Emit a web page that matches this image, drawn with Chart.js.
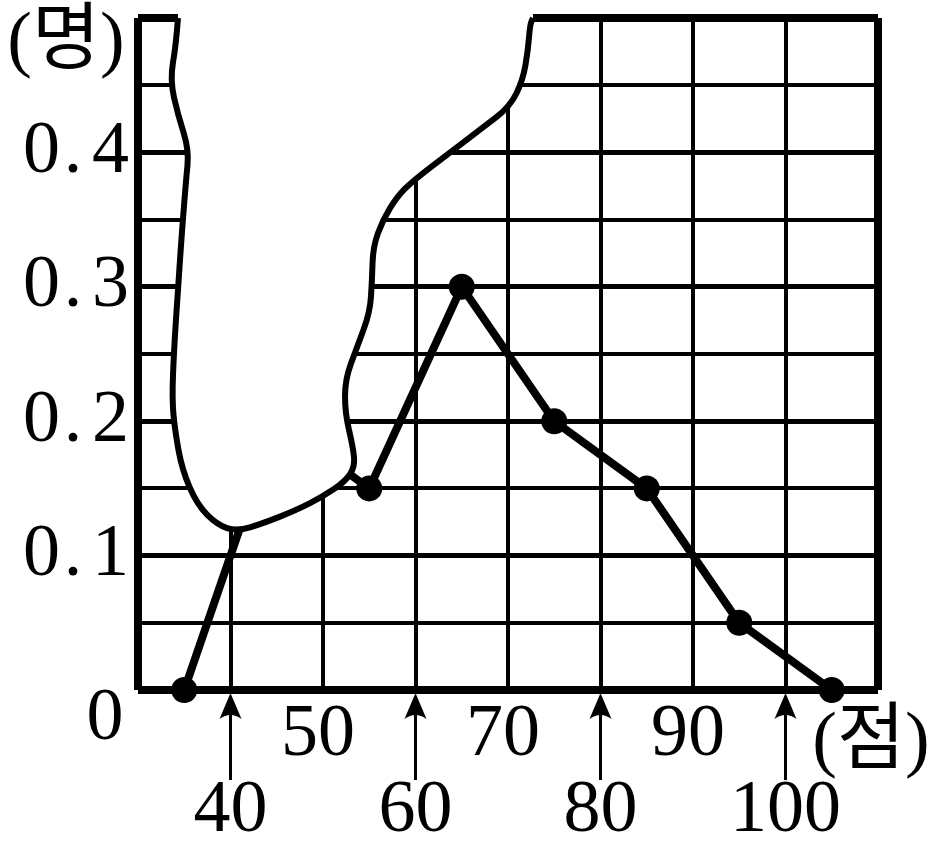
<!DOCTYPE html>
<html>
<head>
<meta charset="utf-8">
<script src="https://cdn.jsdelivr.net/npm/chart.js@4/dist/chart.umd.min.js"></script>
<style>
    html, body { margin: 0; padding: 0; background: #fff; }
    canvas { display: block; }
</style>
</head>
<body>
<canvas id="freqChart" width="935" height="858"></canvas>
<script>
// Class midpoints (점) and relative frequency (명)
const scores = [35, 45, 55, 65, 75, 85, 95, 105];
const relFreq = [0, 0.2, 0.15, 0.3, 0.2, 0.15, 0.05, 0];
const hiddenScore = 45; // lies under the torn patch

const upperTickLabels = [50, 70, 90];
const lowerTickLabels = [40, 60, 80, 100];
const yTickLabels = ['0.1', '0.2', '0.3', '0.4'];

// Edge of the torn-off patch, in chart units (score, frequency)
const tornEdgeScores = [34.32, 34.11, 33.46, 34.32, 35.51, 35.19, 34.76, 34.32, 33.89, 33.68, 34.0, 34.76,
    36.38, 38.54, 40.7, 43.51, 47.19, 50.0, 52.38, 53.46, 53.24, 52.38, 52.38, 53.68, 55.08, 55.3,
    55.41, 56.49, 58.0, 59.73, 63.73, 67.19, 70.22, 71.62, 72.16, 72.38, 72.7];
const tornEdgeValues = [0.5, 0.48, 0.454, 0.428, 0.402, 0.379, 0.342, 0.298, 0.253, 0.216, 0.193, 0.164,
    0.138, 0.123, 0.118, 0.124, 0.134, 0.144, 0.155, 0.166, 0.181, 0.206, 0.231, 0.255, 0.281, 0.305,
    0.33, 0.35, 0.367, 0.379, 0.4, 0.418, 0.434, 0.454, 0.476, 0.495, 0.5];

const serif = "'Liberation Serif', 'Noto Sans CJK KR', serif";
const points = scores.map((s, i) => ({ x: s, y: relFreq[i] }));

// draws the white torn patch right after the polygon line
const tornPatch = {
    id: 'tornPatch',
    afterDatasetDraw(chart, args) {
        if (args.index !== 0) return;
        const { ctx, scales: { x, y } } = chart;
        const pts = tornEdgeScores.map((s, i) => [x.getPixelForValue(s), y.getPixelForValue(tornEdgeValues[i])]);

        const trace = () => {
            ctx.moveTo(pts[0][0], pts[0][1]);
            for (let i = 1; i < pts.length - 1; i++) {
                const mx = (pts[i][0] + pts[i + 1][0]) / 2;
                const my = (pts[i][1] + pts[i + 1][1]) / 2;
                ctx.quadraticCurveTo(pts[i][0], pts[i][1], mx, my);
            }
            ctx.lineTo(pts[pts.length - 1][0], pts[pts.length - 1][1]);
        };

        ctx.save();
        ctx.beginPath();
        trace();
        ctx.lineTo(pts[pts.length - 1][0], y.top - 10);
        ctx.lineTo(pts[0][0], y.top - 10);
        ctx.closePath();
        ctx.fillStyle = '#fff';
        ctx.fill();

        ctx.beginPath();
        trace();
        ctx.lineWidth = 6;
        ctx.strokeStyle = '#000';
        ctx.lineJoin = 'round';
        ctx.stroke();
        ctx.restore();
    }
};

// tick labels, arrows and unit labels
const axisText = {
    id: 'axisText',
    afterDraw(chart) {
        const { ctx, scales: { x, y } } = chart;
        ctx.save();
        ctx.fillStyle = '#000';
        ctx.strokeStyle = '#000';
        ctx.font = '74px ' + serif;
        ctx.textBaseline = 'middle';
        ctx.textAlign = 'center';

        upperTickLabels.forEach(v => {
            ctx.fillText(String(v), x.getPixelForValue(v) - 5, 736);
        });
        lowerTickLabels.forEach(v => {
            const px = x.getPixelForValue(v);
            ctx.fillText(String(v), px, 812);
            // arrow pointing up at the tick
            const tip = y.bottom + 3;
            ctx.lineWidth = 3;
            ctx.beginPath();
            ctx.moveTo(px, tip + 12);
            ctx.lineTo(px, 780);
            ctx.stroke();
            ctx.beginPath();
            ctx.moveTo(px, tip);
            ctx.lineTo(px + 11, tip + 26);
            ctx.quadraticCurveTo(px, tip + 18, px - 11, tip + 26);
            ctx.closePath();
            ctx.fill();
        });

        // y labels with a wide-spaced decimal point
        yTickLabels.forEach(t => {
            const py = y.getPixelForValue(parseFloat(t));
            const [a, b] = t.split('.');
            ctx.textAlign = 'right';
            ctx.fillText(b, 129, py);
            ctx.fillText(a, 60, py);
            ctx.textAlign = 'center';
            ctx.fillText('.', 73, py);
        });
        ctx.textAlign = 'center';
        ctx.fillText('0', 105, 720);

        ctx.font = '74px ' + serif;
        ctx.fillText('(명)', 66, 44);
        ctx.fillText('(점)', 871, 744);
        ctx.restore();
    }
};

new Chart(document.getElementById('freqChart'), {
    type: 'line',
    data: {
        datasets: [{
            data: points,
            borderColor: '#000',
            borderWidth: 8,
            pointRadius: 0,
            tension: 0,
            clip: false,
            order: 2
        }, {
            data: points,
            showLine: false,
            pointRadius: c => (c.raw && c.raw.x === hiddenScore ? 0 : 13),
            pointBackgroundColor: '#000',
            pointBorderWidth: 0,
            clip: false,
            order: 1
        }]
    },
    options: {
        responsive: false,
        animation: false,
        devicePixelRatio: 1,
        layout: { padding: { left: 138, top: 18, right: 57, bottom: 168 } },
        plugins: { legend: { display: false }, tooltip: { enabled: false } },
        scales: {
            x: {
                type: 'linear',
                min: 30,
                max: 110,
                ticks: { stepSize: 10, display: false },
                border: { display: false },
                grid: {
                    color: '#000',
                    drawTicks: false,
                    lineWidth: c => (c.tick && (c.tick.value === 30 || c.tick.value === 110) ? 8 : 4)
                }
            },
            y: {
                min: 0,
                max: 0.5,
                ticks: { stepSize: 0.05, display: false },
                border: { display: false },
                grid: {
                    color: '#000',
                    drawTicks: false,
                    lineWidth: c => {
                        if (!c.tick) return 4;
                        const v = Math.round(c.tick.value * 100);
                        if (v === 0 || v === 50) return 8;
                        return v % 10 === 0 ? 5 : 4;
                    }
                }
            }
        }
    },
    plugins: [tornPatch, axisText]
});
</script>
</body>
</html>
